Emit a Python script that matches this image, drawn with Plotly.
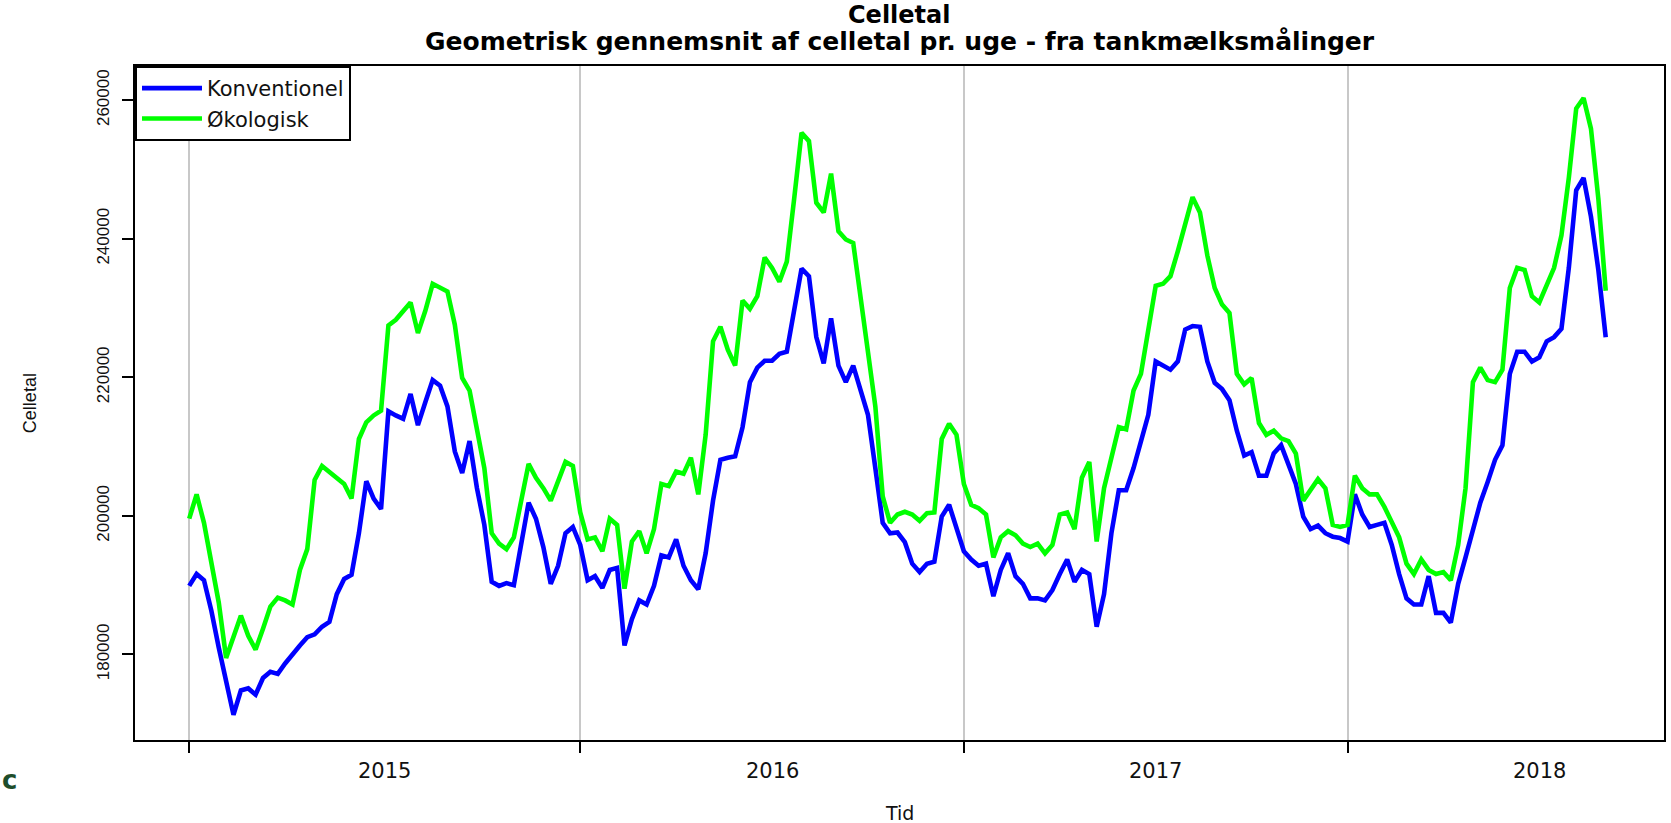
import plotly.graph_objects as go

# ---------------- data ----------------
years = ["2015", "2016", "2017", "2018"]
weeks_per_year = [53, 52, 52, 52]

y_ticks = [180000, 200000, 220000, 240000, 260000]

konventionel = [
    189900, 191600, 190700, 186300, 181000, 176300, 171300, 174800, 175100, 174200,
    176600, 177500, 177200, 178700, 180100, 181300, 182500, 182900, 184000, 184700,
    188700, 190900, 191500, 197500, 205000, 202500, 201000, 215100, 214500, 214000,
    217600, 213100, 216400, 219600, 218800, 215800, 209300, 206200, 210800, 204000,
    198700, 190500, 189900, 190300, 190000, 195800, 201900, 199600, 195500, 190200,
    192800, 197500, 198400, 195800, 190700, 191300, 189600, 192200, 192500, 181300,
    185100, 187800, 187200, 189900, 194300, 194000, 196600, 192800, 190700, 189400,
    194600, 202200, 208100, 208400, 208600, 212800, 219300, 221400, 222400, 222400,
    223400, 223700, 229900, 235700, 234600, 225800, 222000, 228500, 221700, 219300,
    221700, 218100, 214600, 206900, 199000, 197500, 197600, 196200, 193100, 191900,
    193100, 193400, 199900, 201600, 198400, 194900, 193700, 192800, 193100, 188400,
    192200, 194600, 191300, 190200, 188100, 188100, 187800, 189300, 191600, 193700,
    190500, 192200, 191600, 184000, 188700, 197500, 203700, 203700, 206900, 210800,
    214600, 222300, 221700, 221100, 222300, 226900, 227400, 227300, 222300, 219200,
    218300, 216700, 212300, 208700, 209200, 205800, 205800, 209000, 210200, 207500,
    204600, 199900, 198100, 198600, 197500, 197000, 196800, 196300, 203100, 200200,
    198400, 198700, 199000, 195800, 191600, 188100, 187200, 187200, 191300, 186000,
    186000, 184600, 190200, 194000, 198100, 201900, 204900, 208100, 210200, 220500,
    223700, 223700, 222300, 222900, 225200, 225800, 227000, 235800, 247000, 248800,
    243200, 235500, 225800,
]

okologisk = [
    199600, 203100, 199000, 193400, 187500, 179500, 182500, 185600, 182700, 180700,
    183700, 186900, 188200, 187800, 187200, 192200, 195200, 205200, 207200, 206400,
    205500, 204600, 202500, 211100, 213500, 214500, 215200, 227500, 228300, 229500,
    230800, 226400, 229600, 233500, 233000, 232400, 227600, 219900, 218100, 212300,
    206900, 197500, 196000, 195200, 196900, 202200, 207500, 205500, 204000, 202200,
    204900, 207800, 207200, 200500, 196600, 196900, 194900, 199600, 198700, 189500,
    196300, 197800, 194600, 198100, 204600, 204300, 206400, 206100, 208400, 203100,
    211700, 225200, 227300, 224000, 221700, 231100, 229900, 231700, 237300, 235800,
    233800, 236700, 245800, 255300, 254100, 245200, 243800, 249400, 241100, 239900,
    239400, 231700, 224000, 215800, 202800, 199000, 200200, 200600, 200200, 199300,
    200400, 200500, 211100, 213300, 211700, 204600, 201600, 201100, 200200, 194000,
    196900, 197800, 197200, 196000, 195500, 196000, 194600, 195800, 200200, 200500,
    198100, 205500, 207800, 196300, 204000, 208100, 212800, 212500, 218100, 220500,
    226400, 233200, 233500, 234600, 238200, 242300, 246000, 243800, 237600, 232900,
    230500, 229300, 220500, 219000, 219900, 213400, 211700, 212300, 211200, 210800,
    209000, 202200, 203700, 205300, 204000, 198700, 198400, 198700, 205800, 204000,
    203100, 203100, 201300, 199000, 196900, 193100, 191600, 193700, 192200, 191600,
    191900, 190700, 195800, 204000, 219300, 221400, 219600, 219300, 221100, 232900,
    235800, 235500, 231700, 230800, 233200, 235800, 240500, 248800, 258800, 260300,
    255900, 245800, 232500,
]

# ---------------- derived axis positions ----------------
x = list(range(len(konventionel)))
year_starts = []
acc = 0
for n in weeks_per_year:
    year_starts.append(acc)
    acc += n
year_mids = [s + n / 2 for s, n in zip(year_starts, weeks_per_year)]

x_range = [-7.35, 199.9]
y_range = [167650, 264940]

fig = go.Figure()
fig.add_trace(go.Scatter(x=x, y=konventionel, mode="lines", name="Konventionel",
                         line=dict(color="#0000FF", width=4.6)))
fig.add_trace(go.Scatter(x=x, y=okologisk, mode="lines", name="Økologisk",
                         line=dict(color="#00FF00", width=4.6)))

L, R, T, B = 135, 5, 66, 83
W, H = 1671, 823
pw = W - L - R
ph = H - T - B

def px_x(px):
    return (px - L) / pw

def px_y(py):
    return (H - B - py) / ph

annotations = [
    dict(text="<b>Celletal</b>", xref="paper", yref="paper", x=0.5, y=px_y(15),
         xanchor="center", yanchor="middle", showarrow=False,
         font=dict(family="DejaVu Sans", size=24, color="black")),
    dict(text="<b>Geometrisk gennemsnit af celletal pr. uge - fra tankmælksmålinger</b>",
         xref="paper", yref="paper", x=0.5, y=px_y(41),
         xanchor="center", yanchor="middle", showarrow=False,
         font=dict(family="DejaVu Sans", size=25, color="black")),
    dict(text="Celletal", xref="paper", yref="paper", x=px_x(30), y=0.5,
         textangle=-90, xanchor="center", yanchor="middle", showarrow=False,
         font=dict(family="Liberation Sans", size=18, color="#111111")),
    dict(text="Tid", xref="paper", yref="paper", x=0.5, y=px_y(813),
         xanchor="center", yanchor="middle", showarrow=False,
         font=dict(family="DejaVu Sans", size=19, color="#111111")),
    dict(text="<b>c</b>", xref="paper", yref="paper", x=px_x(0), y=px_y(780),
         xanchor="left", yanchor="middle", showarrow=False,
         font=dict(family="DejaVu Sans", size=26, color="#1E4D2B")),
]
for yr, xm in zip(years, year_mids):
    annotations.append(dict(text=yr, xref="x", yref="paper", x=xm, y=px_y(771),
                            xanchor="center", yanchor="middle", showarrow=False,
                            font=dict(family="DejaVu Sans", size=21, color="#111111")))

fig.update_layout(
    width=W, height=H,
    margin=dict(l=L, r=R, t=T, b=B, pad=0),
    plot_bgcolor="white", paper_bgcolor="white",
    showlegend=True,
    legend=dict(x=0, y=1, xanchor="left", yanchor="top",
                bordercolor="black", borderwidth=2, bgcolor="white",
                font=dict(family="DejaVu Sans", size=21, color="#111111"),
                itemwidth=60, tracegroupgap=0),
    xaxis=dict(range=x_range, tickvals=year_starts, ticktext=[""] * len(year_starts),
               ticks="outside", ticklen=11, tickwidth=1.5, tickcolor="black",
               showgrid=True, gridcolor="#C8C8C8", gridwidth=2, zeroline=False,
               showline=True, linecolor="black", linewidth=2, mirror=True),
    yaxis=dict(range=y_range, tickvals=y_ticks, ticktext=[str(v) for v in y_ticks],
               tickangle=-90, ticks="outside", ticklen=11, tickwidth=1.5, tickcolor="black",
               showgrid=False, zeroline=False, showline=True, linecolor="black",
               linewidth=2, mirror=True, ticklabelstandoff=6,
               tickfont=dict(family="Liberation Sans", size=17, color="#111111")),
    annotations=annotations,
)

fig.write_html("out.html", config={"displayModeBar": False},
               post_script="document.body.style.margin='0';")
